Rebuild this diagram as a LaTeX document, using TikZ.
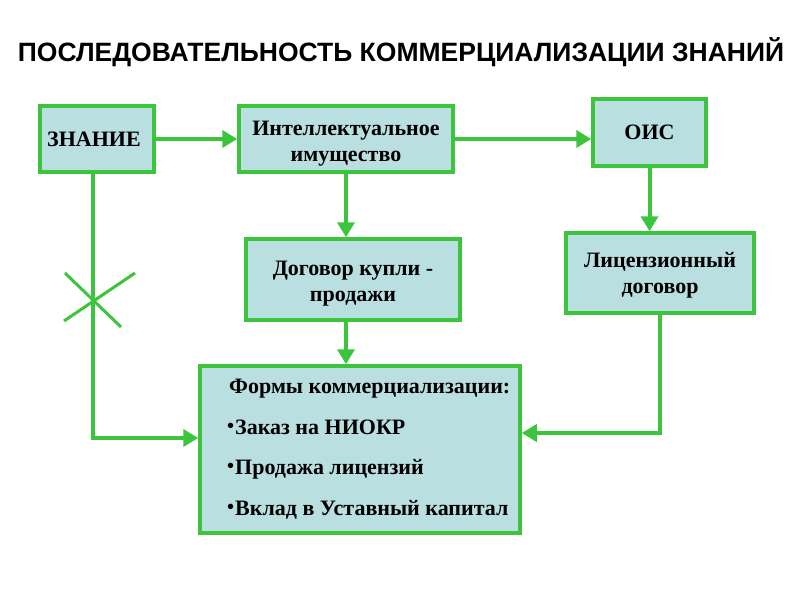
\documentclass[tikz,border=0pt]{standalone}
\usepackage{fontspec}
\setmainfont{Liberation Serif}
\newfontfamily\titlefont{Liberation Sans}
\usetikzlibrary{arrows.meta}
\definecolor{gline}{HTML}{3CC43C}
\definecolor{bfill}{HTML}{BADFE1}
\tikzset{
  box/.style={draw=gline, line width=3.5pt, fill=bfill, align=center, font=\bfseries\fontsize{22}{26}\selectfont, inner sep=0pt},
  conn/.style={draw=gline, line width=4pt, -{Triangle[length=15pt,width=17pt]}},
  plain/.style={draw=gline, line width=3pt},
}
\newcommand{\bul}{\raisebox{2pt}{\fontsize{20}{20}\selectfont•}\hspace{1pt}}
\newcommand{\dn}[2][-4pt]{\raisebox{#1}[\height][\depth]{\begin{tabular}{@{}c@{}}#2\end{tabular}}}
\begin{document}
\begin{tikzpicture}[x=1pt,y=-1pt]
\useasboundingbox (0,0) rectangle (800,600);
\node[font=\titlefont\bfseries\fontsize{26.5}{30}\selectfont, inner sep=0pt] (title) at (401,52) {ПОСЛЕДОВАТЕЛЬНОСТЬ КОММЕРЦИАЛИЗАЦИИ ЗНАНИЙ};
\node[box, minimum width=114pt, minimum height=66pt] (zn) at (97,139) {\hspace*{-6pt}\dn[-2pt]{ЗНАНИЕ}};
\node[box, minimum width=214pt, minimum height=66pt] (ii) at (346,139) {\dn[-4.5pt]{Интеллектуальное\\имущество}};
\node[box, minimum width=113pt, minimum height=67pt] (ois) at (649.5,132.5) {\dn[-2pt]{ОИС}};
\node[box, minimum width=214pt, minimum height=81pt] (dk) at (353,279.5) {\dn{Договор купли -\\продажи}};
\node[box, minimum width=188pt, minimum height=80pt] (ld) at (660,273) {\dn[-2.5pt]{Лицензионный\\договор}};
\node[box, minimum width=320pt, minimum height=167pt] (fk) at (360,449.5) {};
\node[anchor=north west, align=left, font=\bfseries\fontsize{22}{40.5}\selectfont, inner sep=0pt] (fktext) at (227,379) {%
\hspace*{2pt}Формы коммерциализации:\\
\bul Заказ на НИОКР\\
\bul Продажа лицензий\\
\bul Вклад в Уставный капитал};
\draw[conn] (zn.east) -- (ii.west);
\draw[conn] (ii.east) -- (ois.west |- ii.east);
\draw[conn] (ii.south) -- (ii.south |- dk.north);
\draw[conn] (ois.south) -- (ois.south |- ld.north);
\draw[conn] (dk.south -| ii.south) -- (ii.south |- fk.north);
\coordinate (c1) at (93,438);
\coordinate (c2) at (660,433);
\draw[conn] (zn.south -| c1) -- (c1) -- (c1 -| fk.west);
\draw[conn] (ld.south -| c2) -- (c2) -- (c2 -| fk.east);
\coordinate (x1) at (65,273);
\coordinate (x2) at (121,327);
\coordinate (x3) at (135,273);
\coordinate (x4) at (64,321);
\draw[plain] (x1) -- (x2);
\draw[plain] (x3) -- (x4);
\end{tikzpicture}
\end{document}
